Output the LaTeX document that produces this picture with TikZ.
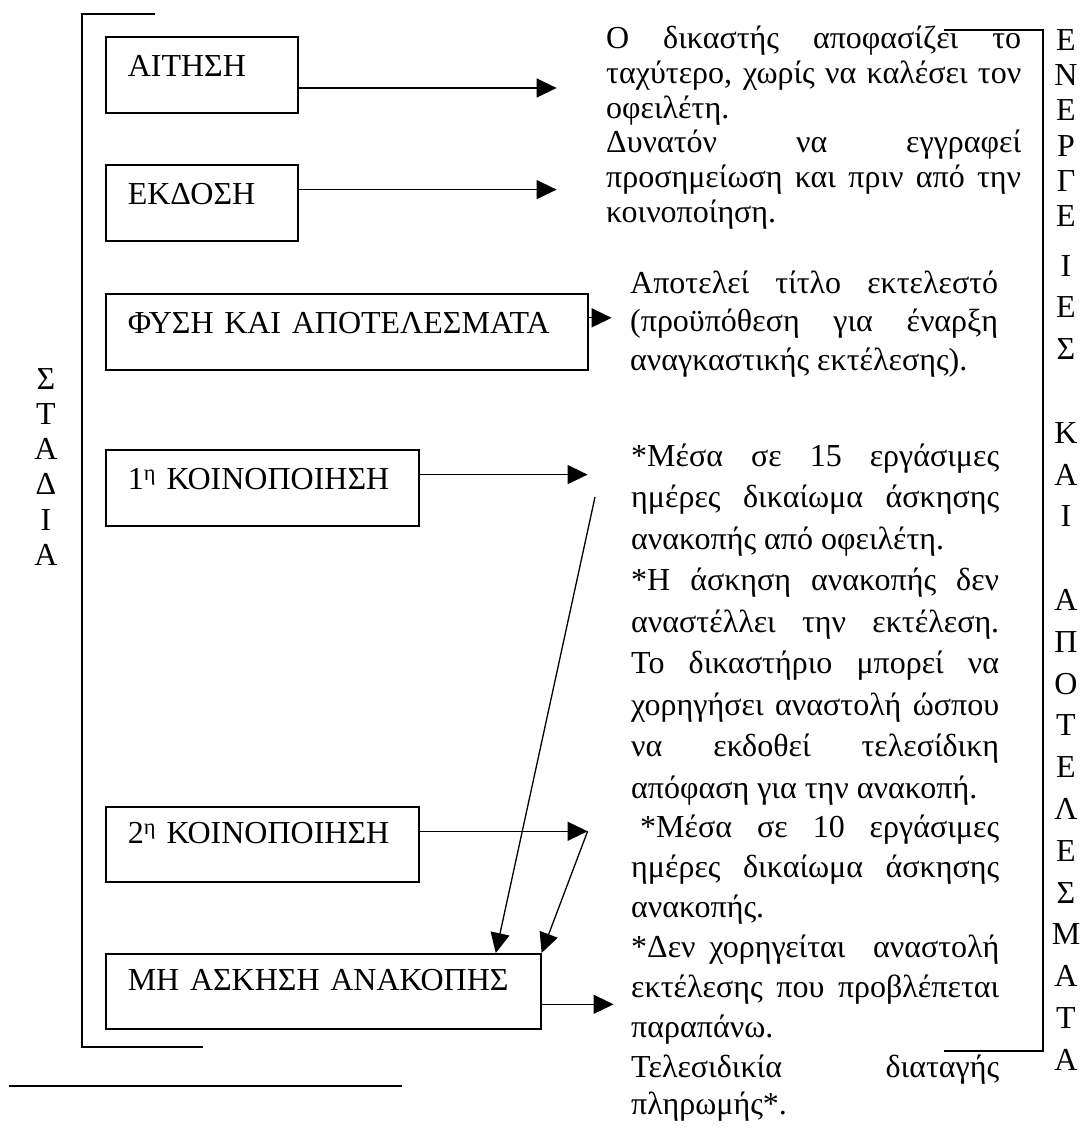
\documentclass[tikz,border=0pt]{standalone}
\usepackage{fontspec}
\setmainfont{Liberation Serif}
\usetikzlibrary{arrows.meta,calc}
\begin{document}
\begin{tikzpicture}[x=1pt,y=-1pt,
  font=\fontsize{32}{36}\selectfont,
  box/.style={draw, line width=1.6pt, anchor=north west, inner xsep=22pt, inner ysep=0pt, align=left},
  arr/.style={line width=1.3pt, -{Triangle[length=20pt,width=19pt]}},
  brk/.style={line width=1.4pt},
  txt/.style={anchor=base west, inner sep=0pt},
  lt/.style={anchor=base, inner sep=0pt}]
\useasboundingbox (0,0) rectangle (1089,1137);

% left bracket and footnote rule
\coordinate (lb1) at (155,14);
\coordinate (lb2) at (82,14);
\coordinate (lb3) at (82,1047);
\coordinate (lb4) at (203,1047);
\draw[brk] (lb1) -- (lb2) -- (lb3) -- (lb4);
\coordinate (fs1) at (9,1086);
\coordinate (fs2) at (402,1086);
\draw[brk] (fs1) -- (fs2);

% right bracket
\coordinate (rb1) at (944,30);
\coordinate (rb2) at (1043,30);
\coordinate (rb3) at (1043,1051);
\coordinate (rb4) at (944,1051);
\draw[brk] (rb1) -- (rb2) -- (rb3) -- (rb4);

% boxes
\node[box, text width=148pt, text height=40pt, text depth=36pt] (b1) at (105,36) {ΑΙΤΗΣΗ};
\node[box, text width=148pt, text height=40pt, text depth=36pt] (b2) at (105,164) {ΕΚΔΟΣΗ};
\node[box, text width=438pt, text height=40pt, text depth=36pt] (b3) at (105,293) {ΦΥΣΗ ΚΑΙ ΑΠΟΤΕΛΕΣΜΑΤΑ};
\node[box, text width=269pt, text height=40pt, text depth=36pt] (b4) at (105,449) {1\textsuperscript{η} ΚΟΙΝΟΠΟΙΗΣΗ};
\node[box, text width=269pt, text height=37pt, text depth=38pt] (b5) at (105,806) {2\textsuperscript{η} ΚΟΙΝΟΠΟΙΗΣΗ};
\node[box, text width=391pt, text height=37pt, text depth=38pt] (b6) at (105,953) {ΜΗ ΑΣΚΗΣΗ ΑΝΑΚΟΠΗΣ};

% arrow starts and tips
\coordinate (a1) at ($(b1.north east)!0.67!(b1.south east)$);
\coordinate (a2) at ($(b2.north east)!0.33!(b2.south east)$);
\coordinate (a3) at ($(b3.north east)!0.32!(b3.south east)$);
\coordinate (a4) at ($(b4.north east)!0.33!(b4.south east)$);
\coordinate (a5) at ($(b5.north east)!0.33!(b5.south east)$);
\coordinate (a6) at ($(b6.north east)!0.67!(b6.south east)$);
\path (a1) ++(258,0) coordinate (t1);
\path (a2) ++(258,0) coordinate (t2);
\path (a3) ++(23,0) coordinate (t3);
\path (a4) ++(168,0) coordinate (t4);
\path (a5) ++(168,0) coordinate (t5);
\path (a6) ++(72,0) coordinate (t6);
\coordinate (d1) at (595,497);

\draw[arr] (a1) -- (t1);
\draw[arr] (a2) -- (t2);
\draw[arr] (a3) -- (t3);
\draw[arr] (a4) -- (t4);
\draw[arr] (a5) -- (t5);
\draw[arr] (a6) -- (t6);
\draw[arr] (d1) -- ($(b6.north west)!0.895!(b6.north east)$);
\draw[arr] (t5) -- (b6.north east);

% ΣΤΑΔΙΑ
\foreach \L [count=\i from 0] in {Σ,Τ,Α,Δ,Ι,Α}
  \node[lt] (s\i) at (46,{389+35.3*\i}) {\L};

% ΕΝΕΡΓΕΙΕΣ ΚΑΙ ΑΠΟΤΕΛΕΣΜΑΤΑ
\foreach \L [count=\i from 0] in {Ε,Ν,Ε,Ρ,Γ,Ε}
  \node[lt] (e\i) at (1066,{51+35*\i}) {\L};
\foreach \L/\k in {Ι/0,Ε/1,Σ/2,Κ/4,Α/5,Ι/6,Α/8,Π/9,Ο/10,Τ/11,Ε/12,Λ/13,Ε/14,Σ/15,Μ/16,Α/17,Τ/18,Α/19}
  \node[lt] (f\k) at (1066,{276+41.8*\k}) {\L};

% block 1
\node[txt] (r1) at (606,49) {\makebox[415pt][s]{Ο δικαστής αποφασίζει το}};
\node[txt] (r2) at (606,84) {\makebox[415pt][s]{ταχύτερο, χωρίς να καλέσει τον}};
\node[txt] (r3) at (606,118) {οφειλέτη.};
\node[txt] (r4) at (606,153) {\makebox[415pt][s]{Δυνατόν να εγγραφεί}};
\node[txt] (r5) at (606,187) {\makebox[415pt][s]{προσημείωση και πριν από την}};
\node[txt] (r6) at (606,222) {κοινοποίηση.};

% block 2
\node[txt] (p1) at (630,293) {\makebox[368pt][s]{Αποτελεί τίτλο εκτελεστό}};
\node[txt] (p2) at (630,331) {\makebox[368pt][s]{(προϋπόθεση για έναρξη}};
\node[txt] (p3) at (630,370) {αναγκαστικής εκτέλεσης).};

% block 3
\node[txt] (q0) at (631,{466+41.5*0}) {\makebox[368pt][s]{*Μέσα σε 15 εργάσιμες}};
\node[txt] (q1) at (631,{466+41.5*1}) {\makebox[368pt][s]{ημέρες δικαίωμα άσκησης}};
\node[txt] (q2) at (631,{466+41.5*2}) {ανακοπής από οφειλέτη.};
\node[txt] (q3) at (631,{466+41.5*3}) {\makebox[368pt][s]{*Η άσκηση ανακοπής δεν}};
\node[txt] (q4) at (631,{466+41.5*4}) {\makebox[368pt][s]{αναστέλλει την εκτέλεση.}};
\node[txt] (q5) at (631,{466+41.5*5}) {\makebox[368pt][s]{Το δικαστήριο μπορεί να}};
\node[txt] (q6) at (631,{466+41.5*6}) {\makebox[368pt][s]{χορηγήσει αναστολή ώσπου}};
\node[txt] (q7) at (631,{466+41.5*7}) {\makebox[368pt][s]{να εκδοθεί τελεσίδικη}};
\node[txt] (q8) at (631,{466+41.5*8}) {απόφαση για την ανακοπή.};
\node[txt] (q9) at (640,{837+40*0}) {\makebox[359pt][s]{*Μέσα σε 10 εργάσιμες}};
\node[txt] (q10) at (631,{837+40*1}) {\makebox[368pt][s]{ημέρες δικαίωμα άσκησης}};
\node[txt] (q11) at (631,{837+40*2}) {ανακοπής.};
\node[txt] (q12) at (631,{837+40*3}) {\makebox[368pt][s]{*Δεν χορηγείται \ αναστολή}};
\node[txt] (q13) at (631,{837+40*4}) {\makebox[368pt][s]{εκτέλεσης που προβλέπεται}};
\node[txt] (q14) at (631,{837+40*5}) {παραπάνω.};
\node[txt] (q15) at (631,1077) {\makebox[368pt][s]{Τελεσιδικία διαταγής}};
\node[txt] (q16) at (631,1114) {πληρωμής*.};
\end{tikzpicture}
\end{document}
